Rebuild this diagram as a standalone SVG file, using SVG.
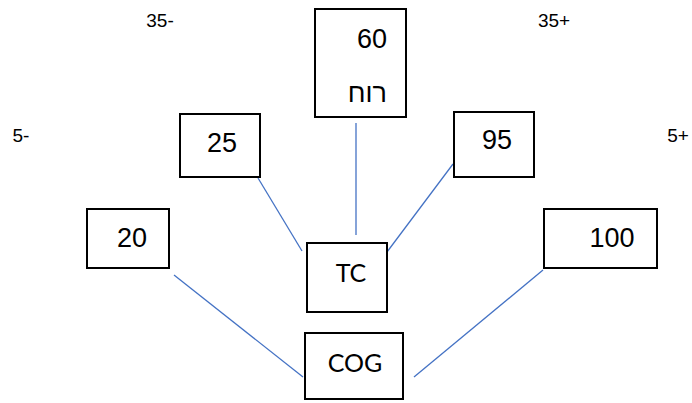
<svg xmlns="http://www.w3.org/2000/svg" width="692" height="403" viewBox="0 0 692 403">
<style>
.box{fill:#fff;stroke:#000;stroke-width:2}
.num{font-family:"Liberation Sans",Arial,sans-serif;font-size:27px;fill:#000;text-anchor:middle}
.lbl{font-family:"Liberation Sans",Arial,sans-serif;font-size:19px;fill:#000;text-anchor:middle}
.cal{font-family:Lato,"Open Sans",sans-serif;font-size:25px;fill:#000;text-anchor:middle}
.heb{font-family:"Liberation Sans","DejaVu Sans",sans-serif;font-size:27px;fill:#000}
.conn line{stroke:#4472C4;stroke-width:1.3}
</style>
<rect width="692" height="403" fill="#fff"/>
<g id="connectors" class="conn">
<line x1="356" y1="123" x2="356" y2="235"/>
<line x1="258" y1="178" x2="302" y2="251"/>
<line x1="453" y1="164" x2="387" y2="252"/>
<line x1="174" y1="275" x2="303" y2="377"/>
<line x1="543" y1="270" x2="414" y2="377"/>
</g>
<g id="n60"><rect class="box" x="315" y="9" width="91" height="108"/><text class="num" x="372" y="48" font-size="26">60</text><text class="heb" x="387" y="102" text-anchor="end">רוח</text></g>
<g id="n25"><rect class="box" x="180" y="114" width="80" height="63"/><text class="num" x="222" y="152">25</text></g>
<g id="n95"><rect class="box" x="454" y="112" width="80" height="65"/><text class="num" x="497" y="149">95</text></g>
<g id="n20"><rect class="box" x="87" y="209" width="82" height="59"/><text class="num" x="132" y="247">20</text></g>
<g id="n100"><rect class="box" x="544" y="209" width="113" height="59"/><text class="num" x="612" y="247">100</text></g>
<g id="tc"><rect class="box" x="307" y="243" width="80" height="69"/><text class="cal" x="351" y="282">TC</text></g>
<g id="cog"><rect class="box" x="305" y="333" width="98" height="66"/><text class="cal" x="355" y="372">COG</text></g>
<text class="lbl" x="160" y="27">35-</text>
<text class="lbl" x="554" y="27">35+</text>
<text class="lbl" x="21" y="142">5-</text>
<text class="lbl" x="678" y="142">5+</text>
</svg>
